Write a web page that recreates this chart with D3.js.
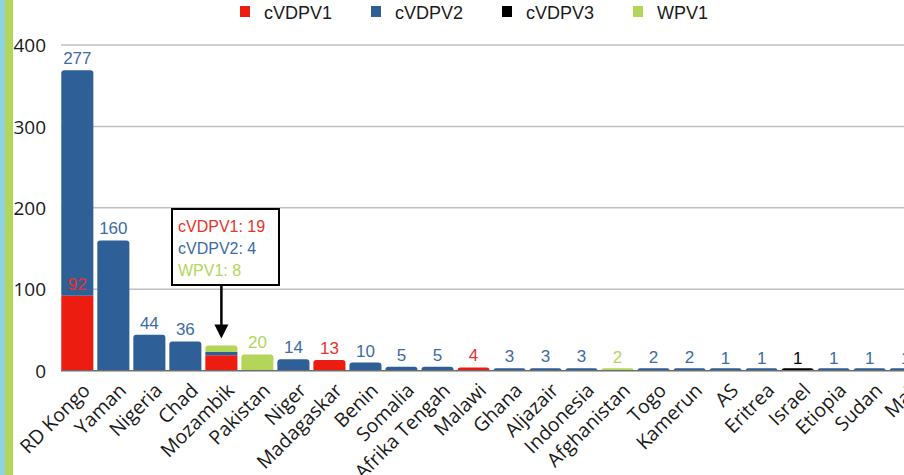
<!DOCTYPE html>
<html>
<head>
<meta charset="utf-8">
<script src="https://cdn.jsdelivr.net/npm/d3@7/dist/d3.min.js"></script>
<style>
  body { margin: 0; background: #fff; }
  svg { display: block; }
</style>
</head>
<body>
<div id="chart"></div>
<script>
'use strict';

const countries = ['RD Kongo', 'Yaman', 'Nigeria', 'Chad', 'Mozambik', 'Pakistan', 'Niger',
    'Madagaskar', 'Benin', 'Somalia', 'Afrika Tengah', 'Malawi', 'Ghana', 'Aljazair',
    'Indonesia', 'Afghanistan', 'Togo', 'Kamerun', 'AS', 'Eritrea', 'Israel', 'Etiopia',
    'Sudan', 'Mali'];

const cVDPV1 = [92, 0, 0, 0, 19, 0, 0, 13, 0, 0, 0, 4, 0, 0, 0, 0, 0, 0, 0, 0, 0, 0, 0, 0];
const cVDPV2 = [277, 160, 44, 36, 4, 0, 14, 0, 10, 5, 5, 0, 3, 3, 3, 0, 2, 2, 1, 1, 0, 1, 1, 1];
const cVDPV3 = [0, 0, 0, 0, 0, 0, 0, 0, 0, 0, 0, 0, 0, 0, 0, 0, 0, 0, 0, 0, 1, 0, 0, 0];
const WPV1 = [0, 0, 0, 0, 8, 20, 0, 0, 0, 0, 0, 0, 0, 0, 0, 2, 0, 0, 0, 0, 0, 0, 0, 0];

const yTicks = [0, 100, 200, 300, 400];

const seriesNames = ['cVDPV1', 'cVDPV2', 'cVDPV3', 'WPV1'];
const barColors = { cVDPV1: '#ed1c10', cVDPV2: '#2e5f96', cVDPV3: '#000000', WPV1: '#b3d65a' };
const labelColors = { cVDPV1: '#e8322a', cVDPV2: '#3d6ba6', cVDPV3: '#000000', WPV1: '#b3d65a' };

// bar yang diberi kotak keterangan, bukan label angka
const calloutCountry = 'Mozambik';

const width = 904, height = 475;

const rows = countries.map((c, i) => ({
    country: c,
    cVDPV1: cVDPV1[i],
    cVDPV2: cVDPV2[i],
    cVDPV3: cVDPV3[i],
    WPV1: WPV1[i]
}));

const svg = d3.select('#chart').append('svg')
    .attr('width', width)
    .attr('height', height);

// garis tepi kiri
svg.append('rect').attr('x', 0).attr('y', 0).attr('width', 5).attr('height', height).attr('fill', '#8dd3e4');
svg.append('rect').attr('x', 5).attr('y', 0).attr('width', 8).attr('height', height).attr('fill', '#b3d65a');

const x = d3.scaleBand()
    .domain(countries)
    .range([59.5, 59.5 + countries.length * 36])
    .paddingInner(0.11)
    .paddingOuter(0.05);

const y = d3.scaleLinear()
    .domain([0, 400])
    .range([370.7, 45]);

// grid
svg.append('g').selectAll('line')
    .data(yTicks.filter(t => t > 0))
    .join('line')
    .attr('x1', 61).attr('x2', width)
    .attr('y1', d => y(d)).attr('y2', d => y(d))
    .attr('stroke', '#c0c0c0')
    .attr('stroke-width', 1.5);

// y axis labels
const yAxis = d3.axisLeft(y).tickValues(yTicks).tickSize(0).tickPadding(0);
const yG = svg.append('g').attr('transform', 'translate(46,0)').call(yAxis);
yG.select('.domain').remove();
yG.selectAll('text')
    .attr('font-family', '"Open Sans", sans-serif')
    .attr('font-size', '19px')
    .attr('fill', '#1a1a1a')
    .attr('dy', '0.35em');

const stack = d3.stack().keys(seriesNames);
const stacked = stack(rows);

function barPath(x0, w, yTop, yBot, rounded) {
    const h = yBot - yTop;
    if (!rounded || h <= 0) {
        return `M${x0},${yBot}V${yTop}H${x0 + w}V${yBot}Z`;
    }
    const r = Math.min(3, h);
    return `M${x0},${yBot}V${yTop + r}Q${x0},${yTop} ${x0 + r},${yTop}` +
        `H${x0 + w - r}Q${x0 + w},${yTop} ${x0 + w},${yTop + r}V${yBot}Z`;
}

// segmen teratas tiap negara
const topKey = {};
rows.forEach(r => {
    seriesNames.forEach(k => { if (r[k] > 0) topKey[r.country] = k; });
});

const barsG = svg.append('g');
stacked.forEach(layer => {
    const key = layer.key;
    barsG.append('g')
        .selectAll('path')
        .data(layer.filter(d => d[1] - d[0] > 0))
        .join('path')
        .attr('d', d => {
            let yTop = y(d[1]);
            const yBot = y(d[0]);
            if (yBot - yTop < 2.5) yTop = yBot - 2.5;
            return barPath(x(d.data.country), x.bandwidth(), yTop, yBot, topKey[d.data.country] === key);
        })
        .attr('fill', barColors[key]);
});

// baseline
svg.append('line')
    .attr('x1', 61).attr('x2', width)
    .attr('y1', y(0)).attr('y2', y(0))
    .attr('stroke', '#6e6e6e')
    .attr('stroke-width', 1.5);

// label angka
const labelsG = svg.append('g')
    .attr('font-family', '"Liberation Sans", Arial, sans-serif')
    .attr('font-size', '17px')
    .attr('text-anchor', 'middle');
stacked.forEach(layer => {
    const key = layer.key;
    labelsG.append('g')
        .selectAll('text')
        .data(layer.filter(d => d[1] - d[0] > 0 && d.data.country !== calloutCountry))
        .join('text')
        .attr('x', d => x(d.data.country) + x.bandwidth() / 2)
        .attr('y', d => y(d[1]) - 6)
        .attr('fill', labelColors[key])
        .text(d => d[1] - d[0]);
});

// kotak keterangan Mozambik
const cRow = rows.find(r => r.country === calloutCountry);
const cx = x(calloutCountry) + x.bandwidth() / 2;
const boxX = 172, boxY = 209, boxW = 107, boxH = 76;
const callout = svg.append('g');
callout.append('rect')
    .attr('x', boxX).attr('y', boxY)
    .attr('width', boxW).attr('height', boxH)
    .attr('fill', '#fff')
    .attr('stroke', '#000')
    .attr('stroke-width', 2);
const cLines = seriesNames.filter(k => cRow[k] > 0);
callout.selectAll('text')
    .data(cLines)
    .join('text')
    .attr('x', boxX + 6)
    .attr('y', (d, i) => boxY + 23 + i * 22)
    .attr('font-family', '"Liberation Sans", Arial, sans-serif')
    .attr('font-size', '16px')
    .attr('fill', d => labelColors[d])
    .text(d => `${d}: ${cRow[d]}`);
const tipY = y(cRow.cVDPV1 + cRow.cVDPV2 + cRow.cVDPV3 + cRow.WPV1) - 7;
callout.append('line')
    .attr('x1', cx).attr('x2', cx)
    .attr('y1', boxY + boxH).attr('y2', tipY - 12)
    .attr('stroke', '#000')
    .attr('stroke-width', 2.5);
callout.append('path')
    .attr('d', `M${cx - 7},${tipY - 14}L${cx + 7},${tipY - 14}L${cx},${tipY}Z`)
    .attr('fill', '#000');

// label sumbu x
const xG = svg.append('g');
xG.selectAll('text')
    .data(countries)
    .join('text')
    .attr('transform', d => `translate(${x(d) + x.bandwidth() / 2 + 14},${y(0) + 21}) rotate(-45)`)
    .attr('text-anchor', 'end')
    .attr('font-family', '"Open Sans", sans-serif')
    .attr('font-size', '19.5px')
    .attr('fill', '#1a1a1a')
    .text(d => d);

// legenda
const legend = svg.append('g').attr('transform', 'translate(240,0)');
const items = legend.selectAll('g')
    .data(seriesNames)
    .join('g')
    .attr('transform', (d, i) => `translate(${i * 131},0)`);
items.append('rect')
    .attr('x', 0).attr('y', 6)
    .attr('width', 10).attr('height', 11)
    .attr('fill', d => barColors[d]);
items.append('text')
    .attr('x', 24).attr('y', 19)
    .attr('font-family', '"Liberation Sans", Arial, sans-serif')
    .attr('font-size', '18px')
    .attr('fill', '#1a1a1a')
    .text(d => d);
</script>
</body>
</html>
